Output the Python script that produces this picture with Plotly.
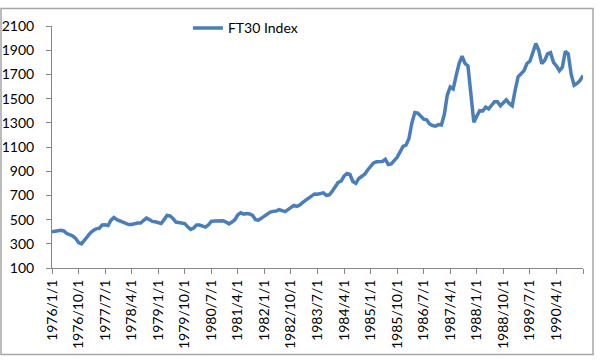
import plotly.graph_objects as go

# Monthly dates 1976/1/1 .. 1991/1/1 (category labels)
dates = [f"{1976 + i // 12}/{i % 12 + 1}/1" for i in range(181)]

# FT30 Index values (monthly)
ft30 = [
    400, 405, 408, 411, 406, 385, 376, 365, 345, 310,
    300, 333, 365, 390, 410, 424, 428, 455, 457, 451,
    495, 518, 500, 490, 485, 470, 459, 459, 466, 472,
    472, 490, 512, 500, 485, 482, 477, 468, 500, 535,
    530, 510, 480, 475, 472, 467, 440, 419, 430, 455,
    455, 445, 438, 455, 485, 489, 490, 485, 490, 480,
    465, 480, 499, 540, 556, 545, 550, 546, 534, 500,
    495, 512, 528, 545, 562, 568, 571, 582, 575, 566,
    582, 598, 618, 610, 620, 642, 660, 680, 692, 712,
    710, 712, 721, 700, 705, 735, 770, 807, 818, 860,
    881, 873, 815, 800, 840, 855, 875, 910, 940, 968,
    978, 978, 980, 998, 955, 960, 990, 1015, 1060, 1105,
    1115, 1170, 1300, 1385, 1380, 1350, 1330, 1325, 1290, 1277,
    1272, 1285, 1282, 1370, 1530, 1596, 1580, 1690, 1790, 1850,
    1790, 1770, 1560, 1305, 1355, 1400, 1398, 1430, 1414, 1445,
    1475, 1475, 1440, 1465, 1489, 1460, 1441, 1570, 1680, 1705,
    1730, 1790, 1810, 1880, 1955, 1900, 1790, 1815, 1870, 1880,
    1800, 1770, 1730, 1760, 1891, 1870, 1700, 1610, 1625, 1650,
    1690,
]

tick_idx = list(range(0, 181, 9))
tick_vals = [dates[i] for i in tick_idx]
tick_text = [dates[i] if i < 180 else "" for i in tick_idx]
y_ticks = list(range(100, 2101, 200))

FONT = "Lato, Carlito, 'Liberation Sans', sans-serif"
AXIS = "#868686"

fig = go.Figure()
fig.add_trace(go.Scatter(
    x=dates, y=ft30, mode="lines", name="FT30 Index",
    line=dict(color="#4A7EBB", width=3.5),
))

fig.update_layout(
    width=600, height=360,
    margin=dict(l=52, r=17, t=19, b=92),
    paper_bgcolor="white", plot_bgcolor="white",
    font=dict(family=FONT, size=14, color="#000000"),
    showlegend=True,
    legend=dict(x=0.256, y=0.99, xanchor="left", yanchor="middle",
                bgcolor="rgba(0,0,0,0)", font=dict(size=14, color="#000000"),
                itemwidth=30),
    xaxis=dict(
        type="category", range=[0, 180], automargin=False,
        tickmode="array", tickvals=tick_vals, ticktext=tick_text,
        tickangle=-90, ticks="outside", ticklen=5, tickcolor=AXIS,
        showline=True, linecolor=AXIS, linewidth=1,
        showgrid=False, zeroline=False,
        tickfont=dict(size=14),
    ),
    yaxis=dict(
        range=[100, 2100], tickmode="array", tickvals=y_ticks,
        automargin=False,
        ticks="outside", ticklen=5, tickcolor=AXIS,
        showline=True, linecolor=AXIS, linewidth=1,
        showgrid=False, zeroline=False,
        tickfont=dict(size=14), ticklabelstandoff=9,
    ),
    shapes=[dict(
        type="rect", xref="paper", yref="paper",
        x0=(1 - 52) / 531, x1=(593 - 52) / 531,
        y0=(268 - 357) / 249, y1=(268 - 1) / 249,
        line=dict(color="#A6A6A6", width=1.5), fillcolor="rgba(0,0,0,0)",
        layer="below",
    )],
)

fig.write_html("out.html")
